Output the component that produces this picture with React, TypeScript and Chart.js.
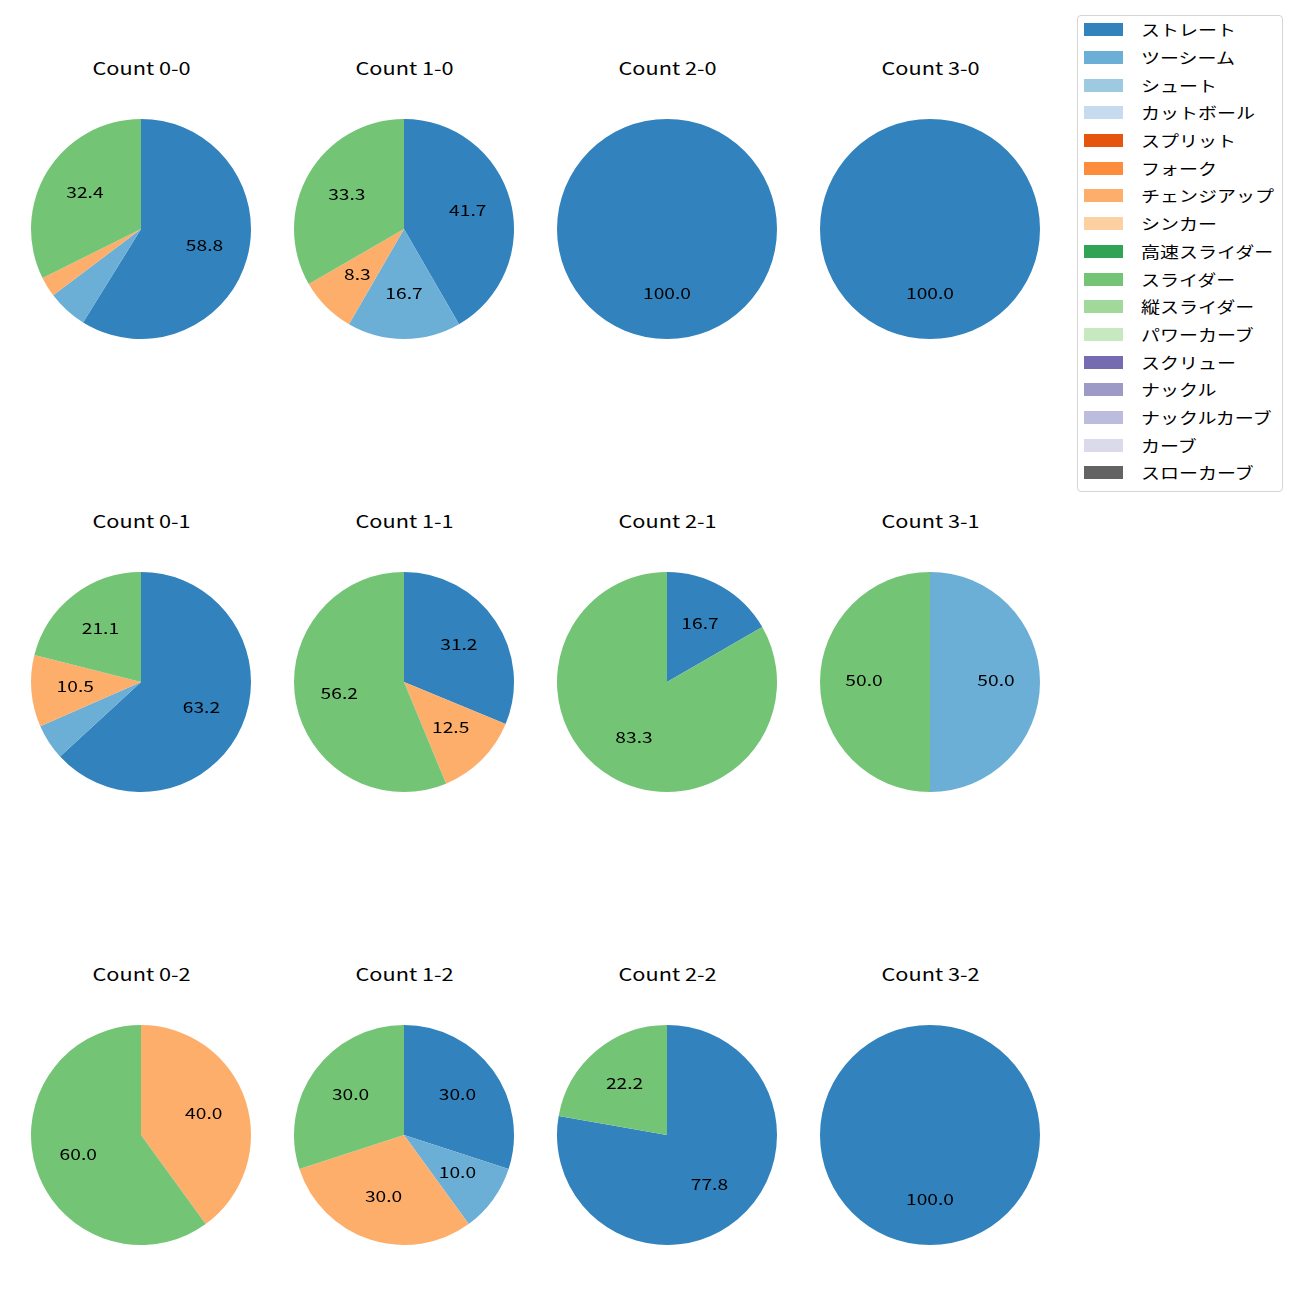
import React, { useEffect, useRef } from "react";
import { Chart, registerables } from "chart.js";

Chart.register(...registerables);

// ---- data ----
const pitchTypes = [
  "ストレート", "ツーシーム", "シュート", "カットボール", "スプリット", "フォーク",
  "チェンジアップ", "シンカー", "高速スライダー", "スライダー", "縦スライダー",
  "パワーカーブ", "スクリュー", "ナックル", "ナックルカーブ", "カーブ", "スローカーブ",
];
const pitchColors = [
  "#3182bd", "#6baed6", "#9ecae1", "#c6dbef", "#e6550d", "#fd8d3c",
  "#fdae6b", "#fdd0a2", "#31a354", "#74c476", "#a1d99b",
  "#c7e9c0", "#756bb1", "#9e9ac8", "#bcbddc", "#dadaeb", "#636363",
];
const countLabels = [
  "Count 0-0", "Count 1-0", "Count 2-0", "Count 3-0",
  "Count 0-1", "Count 1-1", "Count 2-1", "Count 3-1",
  "Count 0-2", "Count 1-2", "Count 2-2", "Count 3-2",
];
// pitch counts per count situation (same order as countLabels)
const straightCounts = [20, 5, 1, 1, 12, 5, 1, 0, 0, 3, 7, 1];
const twoSeamCounts = [2, 2, 0, 0, 1, 0, 0, 1, 0, 1, 0, 0];
const changeupCounts = [1, 1, 0, 0, 2, 2, 0, 0, 2, 3, 0, 0];
const sliderCounts = [11, 4, 0, 0, 4, 9, 5, 1, 3, 3, 2, 0];
const labelThreshold = 7; // percent labels shown at or above this

const seriesByPitch: Record<string, number[]> = {
  "ストレート": straightCounts,
  "ツーシーム": twoSeamCounts,
  "チェンジアップ": changeupCounts,
  "スライダー": sliderCounts,
};

// ---- layout / style ----
const colCenters = [141, 404, 667, 930];
const rowCenters = [229, 682, 1135];
const titleOffset = 161;
const R = 110;
const PAD = 10;
const FONT = '"Noto Sans CJK JP", "Noto Sans", sans-serif';
const TITLE_SIZE = 17.5;
const TITLE_SCALE = 1.24;
const LABEL_SIZE = 15;
const LABEL_SCALE = 1.28;
const LABEL_DY = -1.5;
const LEGEND_SIZE = 15.5;
const LEGEND_SCALE = 1.225;

function fmtHalfEven(p: number): string {
  const v = p * 10;
  const f = Math.floor(v);
  const diff = v - f;
  let r: number;
  if (Math.abs(diff - 0.5) < 1e-9) r = f % 2 === 0 ? f : f + 1;
  else r = Math.round(v);
  return (r / 10).toFixed(1);
}

const pctLabelPlugin = {
  id: "pctLabels",
  afterDatasetsDraw(chart: any) {
    const ctx = chart.ctx;
    const meta = chart.getDatasetMeta(0);
    const data: number[] = chart.data.datasets[0].data;
    const total = data.reduce((a, b) => a + b, 0);
    ctx.save();
    ctx.font = `${LABEL_SIZE}px ${FONT}`;
    ctx.fillStyle = "#000";
    ctx.textAlign = "center";
    ctx.textBaseline = "middle";
    meta.data.forEach((arc: any, i: number) => {
      const v = data[i];
      if (!v) return;
      const pct = (100 * v) / total;
      if (pct < labelThreshold) return;
      const mid = (arc.startAngle + arc.endAngle) / 2;
      const r = arc.outerRadius * 0.6;
      ctx.save();
      ctx.translate(arc.x + Math.cos(mid) * r, arc.y + Math.sin(mid) * r + LABEL_DY);
      ctx.scale(LABEL_SCALE, 1);
      ctx.fillText(fmtHalfEven(pct), 0, 0);
      ctx.restore();
    });
    ctx.restore();
  },
};

function PieChart({ idx }: { idx: number }) {
  const ref = useRef<HTMLCanvasElement | null>(null);
  useEffect(() => {
    if (!ref.current) return;
    const values = pitchTypes.map((p) => (seriesByPitch[p] ? seriesByPitch[p][idx] : 0));
    const chart = new Chart(ref.current, {
      type: "pie",
      data: {
        labels: pitchTypes,
        datasets: [
          {
            data: values,
            backgroundColor: pitchColors,
            borderWidth: 0,
          },
        ],
      },
      options: {
        responsive: false,
        maintainAspectRatio: false,
        animation: false,
        layout: { padding: PAD },
        plugins: { legend: { display: false }, tooltip: { enabled: false } },
      },
      plugins: [pctLabelPlugin],
    });
    return () => chart.destroy();
  }, [idx]);
  const cx = colCenters[idx % 4];
  const cy = rowCenters[Math.floor(idx / 4)];
  const size = 2 * (R + PAD);
  return (
    <>
      <div
        style={{
          position: "absolute",
          left: cx - 99,
          width: 200,
          top: cy - titleOffset - 12,
          height: 24,
          lineHeight: "24px",
          textAlign: "center",
          fontFamily: FONT,
          fontSize: `${TITLE_SIZE}px`,
          color: "#000",
          whiteSpace: "nowrap",
        }}
      >
        <span style={{ display: "inline-block", transform: `scaleX(${TITLE_SCALE})`, transformOrigin: "center" }}>
          {countLabels[idx]}
        </span>
      </div>
      <canvas
        ref={ref}
        width={size}
        height={size}
        style={{ position: "absolute", left: cx - size / 2, top: cy - size / 2, width: size, height: size }}
      />
    </>
  );
}

function Legend() {
  const boxTop = 15;
  const firstCenter = 29.7;
  const step = 27.7;
  return (
    <div
      style={{
        position: "absolute",
        left: 1077,
        top: boxTop,
        width: 206,
        height: 477,
        border: "1px solid #d5d5d5",
        borderRadius: 4,
        background: "#fff",
        boxSizing: "border-box",
        fontFamily: FONT,
        fontSize: `${LEGEND_SIZE}px`,
      }}
    >
      {pitchTypes.map((p, i) => {
        const c = firstCenter + i * step - boxTop - 1;
        return (
          <React.Fragment key={p}>
            <div
              style={{
                position: "absolute",
                left: 6,
                top: c - 6.5,
                width: 39,
                height: 13,
                background: pitchColors[i],
              }}
            />
            <div
              style={{
                position: "absolute",
                left: 63,
                top: c - 15.5,
                height: 30,
                lineHeight: "30px",
                whiteSpace: "nowrap",
                color: "#000",
                transform: `scaleX(${LEGEND_SCALE})`,
                transformOrigin: "left center",
              }}
            >
              {p}
            </div>
          </React.Fragment>
        );
      })}
    </div>
  );
}

export default function App() {
  return (
    <div style={{ position: "absolute", left: 0, top: 0, width: 1300, height: 1300, background: "#fff" }}>
      {countLabels.map((_, i) => (
        <PieChart key={i} idx={i} />
      ))}
      <Legend />
    </div>
  );
}
